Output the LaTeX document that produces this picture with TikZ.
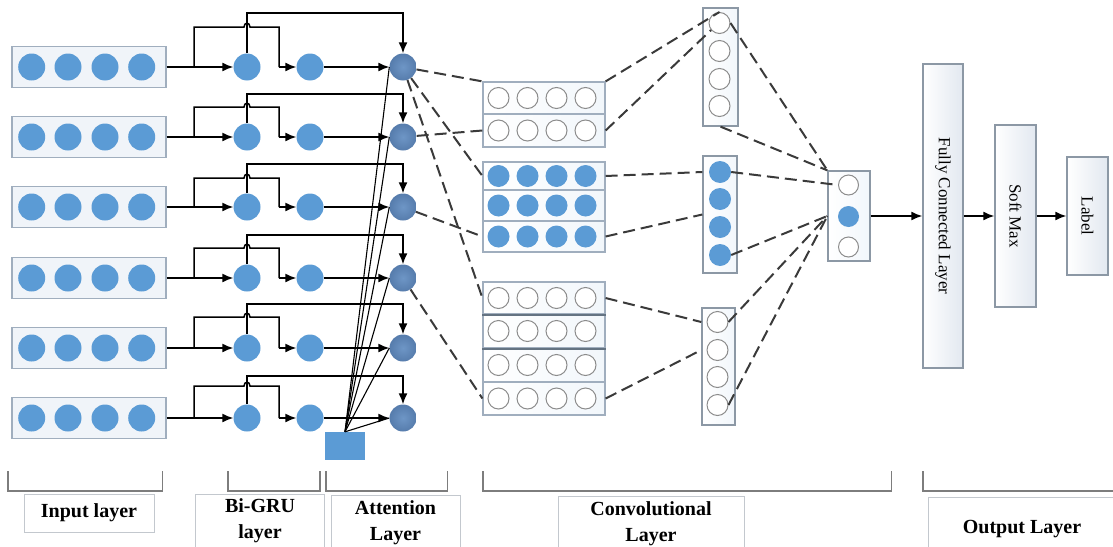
\documentclass[tikz,border=0pt]{standalone}
\usepackage{fontspec}
\setmainfont{Liberation Serif}
\usetikzlibrary{arrows.meta,calc}
\definecolor{cblue}{RGB}{91,155,213}
\definecolor{attin}{RGB}{110,150,198}
\definecolor{attout}{RGB}{86,124,172}
\definecolor{boxedge}{RGB}{160,174,190}
\definecolor{boxfill}{RGB}{240,244,249}
\definecolor{divc}{RGB}{100,115,130}
\definecolor{dashc}{RGB}{58,58,58}
\definecolor{brk}{RGB}{125,125,125}
\definecolor{lbledge}{RGB}{195,200,206}
\definecolor{oedge}{RGB}{140,152,165}
\definecolor{ofill}{RGB}{226,232,240}
\begin{document}
\begin{tikzpicture}[x=1pt,y=-1pt,
  incirc/.style={circle, fill=cblue, minimum size=27pt, inner sep=0pt},
  attcirc/.style={circle, inner color=attin, outer color=attout, minimum size=27pt, inner sep=0pt},
  emptyc/.style={circle, draw=gray!90, fill=white, line width=1pt, minimum size=21pt, inner sep=0pt},
  fillc/.style={circle, fill=cblue, minimum size=22pt, inner sep=0pt},
  inbox/.style={draw=boxedge, fill=boxfill, line width=1.2pt, minimum width=154pt, minimum height=41pt, inner sep=0pt},
  rowbox/.style={draw=boxedge, left color=white, right color=boxfill!80!cblue!30, line width=1.2pt, minimum width=122pt, inner sep=0pt},
  colbox/.style={draw=oedge, left color=white, right color=boxfill!80!cblue!30, line width=1.3pt, inner sep=0pt},
  obox/.style={draw=oedge, left color=white, right color=ofill, line width=1.4pt, inner sep=0pt},
  otext/.style={rotate=-90, font=\fontsize{17}{20}\selectfont, inner sep=0pt},
  arr/.style={-{Latex[length=11pt,width=9pt]}, line width=1.5pt},
  plain/.style={line width=1.5pt},
  thinl/.style={line width=1.1pt},
  dconn/.style={dash pattern=on 12pt off 6pt, line width=2pt, draw=dashc},
  brack/.style={draw=brk, line width=1.6pt},
  lblbox/.style={draw=lbledge, line width=0.8pt, inner sep=0pt, anchor=north west},
  lbltxt/.style={font=\bfseries\fontsize{20}{26}\selectfont, align=center, inner sep=0pt}
]
\useasboundingbox (0,0) rectangle (1113,546);

% attention square
\node[fill=cblue, minimum width=40pt, minimum height=28pt, inner sep=0pt] (sq) at (345,446) {};

% six sequence rows
\foreach \i/\y/\t/\b in {1/67/-54/-40, 2/137/-43/-30, 3/207/-43/-29, 4/278/-43/-30, 5/348/-44/-31, 6/418/-42/-32}{
  \node[inbox] (in\i) at (89,\y) {};
  \foreach \k/\xx in {1/31.7,2/68,3/105,4/141.7}
    \node[incirc] (in\i-\k) at (\xx,\y) {};
  \node[incirc] (gf\i) at (247,\y) {};
  \node[incirc] (gb\i) at (310,\y) {};
  \node[attcirc] (att\i) at (403,\y) {};
  \coordinate (br\i) at (194,\y);
  \coordinate (dn\i) at (279,\y);
  \coordinate (tp\i) at (403,\y+\t);
  \draw[arr] (in\i.east) -- (gf\i);
  \draw[plain] (br\i) |- (244,\y+\b) .. controls (244,\y+\b-5) and (250,\y+\b-5) .. (250,\y+\b) -| (dn\i);
  \draw[arr] (dn\i) -- (gb\i);
  \draw[arr] (gf\i.north) |- (tp\i) -- (att\i.north);
  \draw[arr] (gb\i) -- (att\i);
  \draw[thinl] (sq.north) -- (att\i.west);
}

% convolutional blocks
\node[rowbox, minimum height=32pt] (cA1) at (544,98) {};
\node[rowbox, minimum height=33pt] (cA2) at (544,130.5) {};
\node[rowbox, minimum height=28pt] (cB1) at (544,176) {};
\node[rowbox, minimum height=31pt] (cB2) at (544,205.5) {};
\node[rowbox, minimum height=31pt] (cB3) at (544,236.5) {};
\node[rowbox, minimum height=32pt] (cC1) at (544,298) {};
\node[rowbox, minimum height=34pt] (cC2) at (544,331) {};
\node[rowbox, minimum height=34pt] (cC3) at (544,365) {};
\node[rowbox, minimum height=33pt] (cC4) at (544,398.5) {};
\draw[draw=divc, line width=2pt] (cC1.south west) -- (cC1.south east);
\draw[draw=divc, line width=2pt] (cC2.south west) -- (cC2.south east);
\foreach \r in {A1,A2,C1,C2,C3,C4}
  \foreach \k/\xx in {1/498.5,2/527.5,3/556.5,4/585.5}
    \node[emptyc] (c\r-\k) at (\xx,0 |- c\r) {};
\foreach \r in {B1,B2,B3}
  \foreach \k/\xx in {1/498.5,2/527.5,3/556.5,4/585.5}
    \node[fillc] (c\r-\k) at (\xx,0 |- c\r) {};

% pooled columns
\node[colbox, minimum width=35pt, minimum height=118pt] (col1) at (720.5,67) {};
\node[colbox, minimum width=34pt, minimum height=117pt] (col2) at (720,214.5) {};
\node[colbox, minimum width=33pt, minimum height=117pt] (col3) at (718.5,366.5) {};
\foreach \k/\yy in {1/23,2/51,3/79,4/106}
  \node[emptyc] (col1-\k) at (719.5,\yy) {};
\foreach \k/\yy in {1/172,2/199,3/227,4/255}
  \node[fillc] (col2-\k) at (720,\yy) {};
\foreach \k/\yy in {1/322,2/350,3/377,4/405}
  \node[emptyc] (col3-\k) at (717.5,\yy) {};

% small output column
\node[colbox, minimum width=42pt, minimum height=90pt] (ob) at (849,216) {};
\node[emptyc, minimum size=20pt] (ob-1) at (848.5,185) {};
\node[fillc, minimum size=21pt] (ob-2) at (848.5,216.5) {};
\node[emptyc, minimum size=20pt] (ob-3) at (848.5,247) {};

% dashed connectors: attention -> conv
\draw[dconn] (att1) -- (cA1.north west);
\draw[dconn] (att1) -- (cB1.west);
\draw[dconn] (att1) -- (cC1.west);
\draw[dconn] (att2) -- (cA2.west);
\draw[dconn] (att3) -- (cB3.west);
\draw[dconn] (att4) -- (cC4.west);
% conv -> columns
\draw[dconn] (cA1.north east) -- (col1-1.north);
\draw[dconn] (cA2.east) -- (col1-1.220);
\draw[dconn] (cB1.east) -- (col2.west |- col2-1);
\draw[dconn] (cB3.east) -- (col2.west);
\draw[dconn] (cC1.east) -- (col3.west |- col3-1);
\draw[dconn] (cC4.east) -- (col3.west |- col3-2);
% columns -> small output column
\draw[dconn] (col1-1.east) -- (ob.north west);
\draw[dconn] (col1.south) -- (ob.north west);
\draw[dconn] (col2-1.east) -- (ob-1.west);
\draw[dconn] (col2-4.east) -- (ob.west);
\draw[dconn] (col3-1.east) -- (ob.west);
\draw[dconn] (col3-4.east) -- (ob.west);

% output layer
\node[obox, minimum width=40pt, minimum height=304pt] (fc) at (943,216) {};
\node[otext] (fct) at (fc) {Fully Connected Layer};
\node[obox, minimum width=41pt, minimum height=182pt] (sm) at (1015.5,216) {};
\node[otext] (smt) at (sm) {Soft Max};
\node[obox, minimum width=41pt, minimum height=118pt] (lb) at (1087.5,216) {};
\node[otext] (lbt) at (lb) {Label};
\draw[arr] (ob.east) -- (fc.west);
\draw[arr] (fc.east) -- (sm.west);
\draw[arr] (sm.east) -- (lb.west);

% brackets
\draw[brack] (8,471) -- (8,491) -- (162.5,491) -- (162.5,471);
\draw[brack] (228,471) -- (228,491) -- (320,491) -- (320,471);
\draw[brack] (326,471) -- (326,491) -- (447.5,491) -- (447.5,471);
\draw[brack] (483,471) -- (483,491) -- (891.5,491) -- (891.5,471);
\draw[brack] (923,471) -- (923,491) -- (1113,491);

% labels
\node[lblbox, minimum width=130pt, minimum height=38pt] (lin) at (24,494) {};
\node[lbltxt] (tin) at (89,513) {Input layer};
\node[lblbox, minimum width=129pt, minimum height=70pt] (lbg) at (195,494) {};
\node[lbltxt] (tbg) at (260,521) {Bi-GRU\\layer};
\node[lblbox, minimum width=129pt, minimum height=70pt] (lat) at (331,495) {};
\node[lbltxt] (tat) at (395.5,523) {Attention\\Layer};
\node[lblbox, minimum width=186pt, minimum height=70pt] (lcv) at (558,496) {};
\node[lbltxt] (tcv) at (651,524) {Convolutional\\Layer};
\node[lblbox, minimum width=200pt, minimum height=70pt] (lop) at (928,497) {};
\node[lbltxt] (top) at (1022,529) {Output Layer};
\end{tikzpicture}
\end{document}
